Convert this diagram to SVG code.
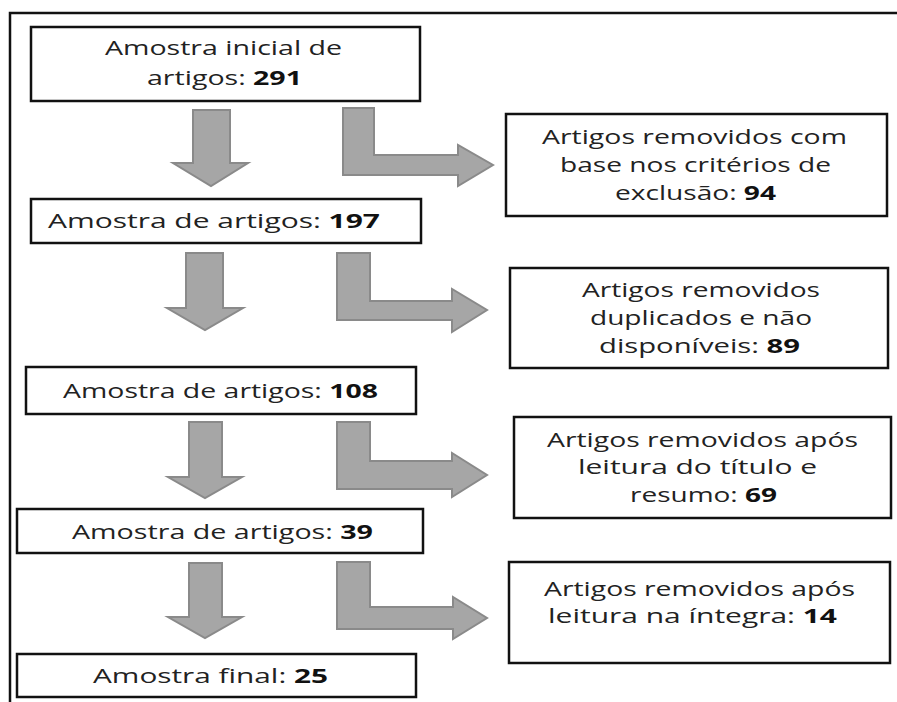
<svg xmlns="http://www.w3.org/2000/svg" width="897" height="702" viewBox="0 0 897 702">
<style>
.frame{stroke:#111;stroke-width:2.5;fill:none}
.box{fill:#fff;stroke:#111;stroke-width:2.5}
.arr{fill:#a6a6a6;stroke:#8a8a8a;stroke-width:2;stroke-linejoin:miter}
text{font-family:"Open Sans","DejaVu Sans",sans-serif;font-size:20px;fill:#222}
.b{font-weight:bold;fill:#111}
</style>
<rect width="897" height="702" fill="#fff"/>
<path class="frame" d="M10,702 L10,13 L897,13"/>
<g id="connectors">
<path class="arr" d="M193,110 L230,110 L230,163 L248,163 L211,186 L173,163 L193,163 Z"/>
<path class="arr" d="M343,108 L374,108 L374,155 L458,155 L458,145 L493,165 L458,186 L458,175 L343,175 Z"/>
<path class="arr" d="M186,253 L223,253 L223,308 L243,308 L205,330 L167,308 L186,308 Z"/>
<path class="arr" d="M337,253 L370,253 L370,301 L452,301 L452,289 L487,310 L452,332 L452,320 L337,320 Z"/>
<path class="arr" d="M189,422 L222,422 L222,477 L242,477 L205,498 L168,477 L189,477 Z"/>
<path class="arr" d="M337,422 L370,422 L370,461 L452,461 L452,453 L487,475 L452,497 L452,489 L337,489 Z"/>
<path class="arr" d="M189,563 L222,563 L222,617 L242,617 L205,638 L168,617 L189,617 Z"/>
<path class="arr" d="M337,562 L370,562 L370,607 L453,607 L453,597 L487,618 L453,639 L453,629 L337,629 Z"/>
</g>
<g id="n1">
<rect class="box" x="31" y="27" width="389" height="74"/>
<text x="105" y="55" textLength="237" lengthAdjust="spacingAndGlyphs">Amostra inicial de</text>
<text x="147" y="85" textLength="155" lengthAdjust="spacingAndGlyphs">artigos: <tspan class="b">291</tspan></text>
</g>
<g id="n2">
<rect class="box" x="31" y="199" width="390" height="44"/>
<text x="48" y="228" textLength="332" lengthAdjust="spacingAndGlyphs">Amostra de artigos: <tspan class="b">197</tspan></text>
</g>
<g id="r1">
<rect class="box" x="506" y="114" width="381" height="102"/>
<text x="542" y="144" textLength="305" lengthAdjust="spacingAndGlyphs">Artigos removidos com</text>
<text x="560" y="172" textLength="271" lengthAdjust="spacingAndGlyphs">base nos critérios de</text>
<text x="615" y="200" textLength="161" lengthAdjust="spacingAndGlyphs">exclusão: <tspan class="b">94</tspan></text>
</g>
<g id="n3">
<rect class="box" x="26" y="367" width="390" height="47"/>
<text x="63" y="398" textLength="315" lengthAdjust="spacingAndGlyphs">Amostra de artigos: <tspan class="b">108</tspan></text>
</g>
<g id="r2">
<rect class="box" x="510" y="268" width="378" height="100"/>
<text x="582" y="297" textLength="238" lengthAdjust="spacingAndGlyphs">Artigos removidos</text>
<text x="590" y="325" textLength="222" lengthAdjust="spacingAndGlyphs">duplicados e não</text>
<text x="599" y="353" textLength="201" lengthAdjust="spacingAndGlyphs">disponíveis: <tspan class="b">89</tspan></text>
</g>
<g id="r3">
<rect class="box" x="514" y="417" width="377" height="101"/>
<text x="547" y="447" textLength="311" lengthAdjust="spacingAndGlyphs">Artigos removidos após</text>
<text x="578" y="474" textLength="239" lengthAdjust="spacingAndGlyphs">leitura do título e</text>
<text x="630" y="502" textLength="147" lengthAdjust="spacingAndGlyphs">resumo: <tspan class="b">69</tspan></text>
</g>
<g id="n4">
<rect class="box" x="17" y="509" width="406" height="44"/>
<text x="72" y="539" textLength="301" lengthAdjust="spacingAndGlyphs">Amostra de artigos: <tspan class="b">39</tspan></text>
</g>
<g id="r4">
<rect class="box" x="509" y="562" width="381" height="101"/>
<text x="544" y="596" textLength="311" lengthAdjust="spacingAndGlyphs">Artigos removidos após</text>
<text x="548" y="623" textLength="289" lengthAdjust="spacingAndGlyphs">leitura na íntegra: <tspan class="b">14</tspan></text>
</g>
<g id="n5">
<rect class="box" x="17" y="654" width="399" height="43"/>
<text x="93" y="683" textLength="235" lengthAdjust="spacingAndGlyphs">Amostra final: <tspan class="b">25</tspan></text>
</g>
</svg>
